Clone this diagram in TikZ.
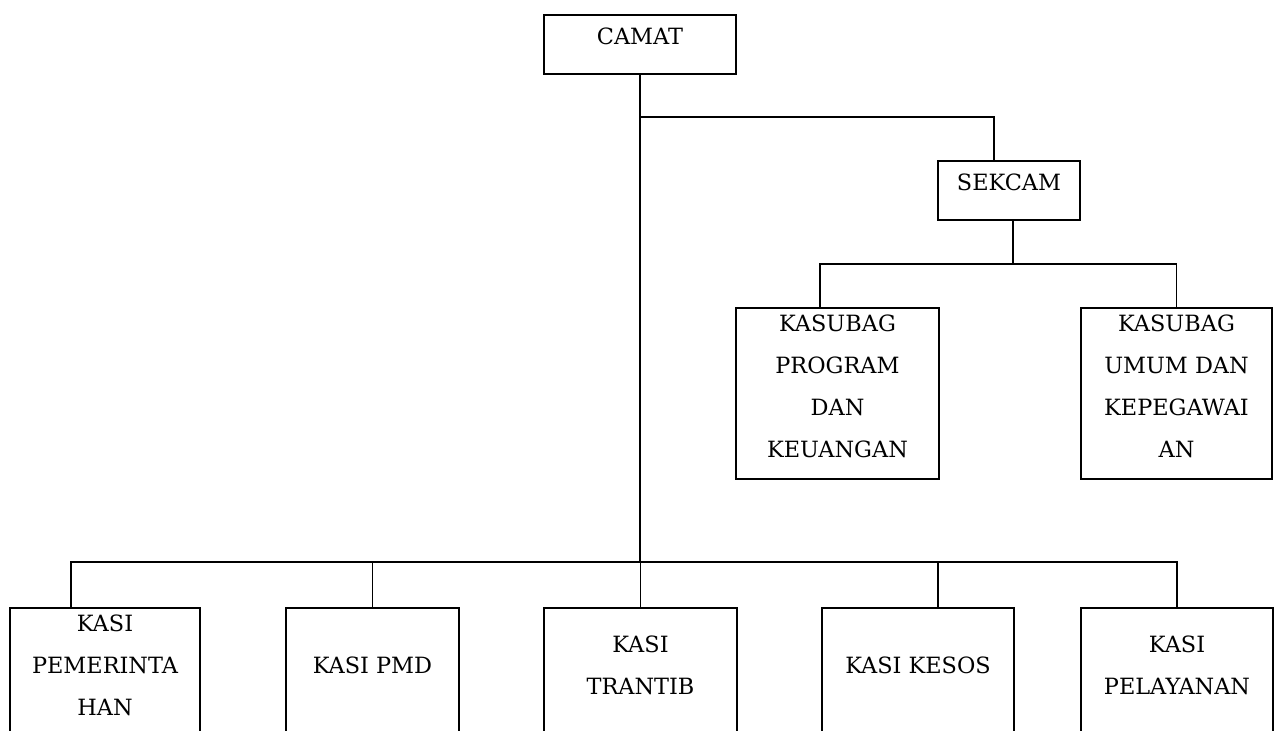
\documentclass[tikz,border=0pt]{standalone}
\usepackage{fontspec}
\setmainfont{DejaVu Serif}
\usetikzlibrary{positioning,calc}

\tikzset{
  unitbox/.style={draw, line width=1pt, inner sep=0pt, anchor=north west},
  unittext/.style={align=center, inner sep=0pt, font=\fontsize{11.2}{21}\selectfont},
  link/.style={line width=0.8pt},
}

\begin{document}
\begin{tikzpicture}[x=0.5pt,y=-0.5pt]
  \clip (0,0) rectangle (1274,730);

  % Pimpinan
  \node[unitbox, minimum width=96pt, minimum height=29.5pt] (camat) at (543,14) {};
  \node[unittext] (camattxt) at ($(camat.north)+(0,22)$) {CAMAT};

  \node[unitbox, minimum width=71pt, minimum height=29.5pt] (sekcam) at (937,160) {};
  \node[unittext] (sekcamtxt) at ($(sekcam.north)+(0,22)$) {SEKCAM};

  % Sub bagian
  \node[unitbox, minimum width=101.5pt, minimum height=85.5pt] (program) at (735,307) {};
  \node[unittext] (programtxt) at ($(program.north)+(0,79.5)$) {KASUBAG\\PROGRAM\\DAN\\KEUANGAN};

  \node[unitbox, minimum width=95.5pt, minimum height=85.5pt] (umum) at (1080,307) {};
  \node[unittext] (umumtxt) at ($(umum.north)+(0,79.5)$) {KASUBAG\\UMUM DAN\\KEPEGAWAI\\AN};

  % Seksi
  \node[unitbox, minimum width=95pt, minimum height=100pt] (pemerintahan) at (9,607) {};
  \node[unittext] (pemerintahantxt) at ($(pemerintahan.north)+(0,58)$) {KASI\\PEMERINTA\\HAN};

  \node[unitbox, minimum width=86.5pt, minimum height=100pt] (pmd) at (285,607) {};
  \node[unittext] (pmdtxt) at ($(pmd.north)+(0,58)$) {KASI PMD};

  \node[unitbox, minimum width=96.5pt, minimum height=100pt] (trantib) at (543,607) {};
  \node[unittext] (trantibtxt) at ($(trantib.north)+(0,58)$) {KASI\\TRANTIB};

  \node[unitbox, minimum width=96pt, minimum height=100pt] (kesos) at (821,607) {};
  \node[unittext] (kesostxt) at ($(kesos.north)+(0,58)$) {KASI KESOS};

  \node[unitbox, minimum width=96pt, minimum height=100pt] (pelayanan) at (1080,607) {};
  \node[unittext] (pelayanantxt) at ($(pelayanan.north)+(0,58)$) {KASI\\PELAYANAN};

  % Garis komando
  \coordinate (sekleg) at (994,117);
  \coordinate (subleg) at (1013,264);
  \coordinate (proleg) at (820,264);
  \coordinate (pemleg) at (71,562);
  \coordinate (kesleg) at (938,562);

  \draw[link] (camat.south) -- (camat.south |- pemleg);
  \draw[link] (camat.south |- sekleg) -- (sekleg) -- (sekleg |- sekcam.north);
  \draw[link] (subleg |- sekcam.south) -- (subleg);
  \draw[link] (proleg |- program.north) -- (proleg) -- (umum.north |- proleg) -- (umum.north);
  \draw[link] (pemleg |- pemerintahan.north) -- (pemleg) -- (pelayanan.north |- pemleg) -- (pelayanan.north);
  \draw[link] (pmd.north) -- (pmd.north |- pemleg);
  \draw[link] (trantib.north) -- (trantib.north |- pemleg);
  \draw[link] (kesleg) -- (kesleg |- kesos.north);
\end{tikzpicture}
\end{document}
